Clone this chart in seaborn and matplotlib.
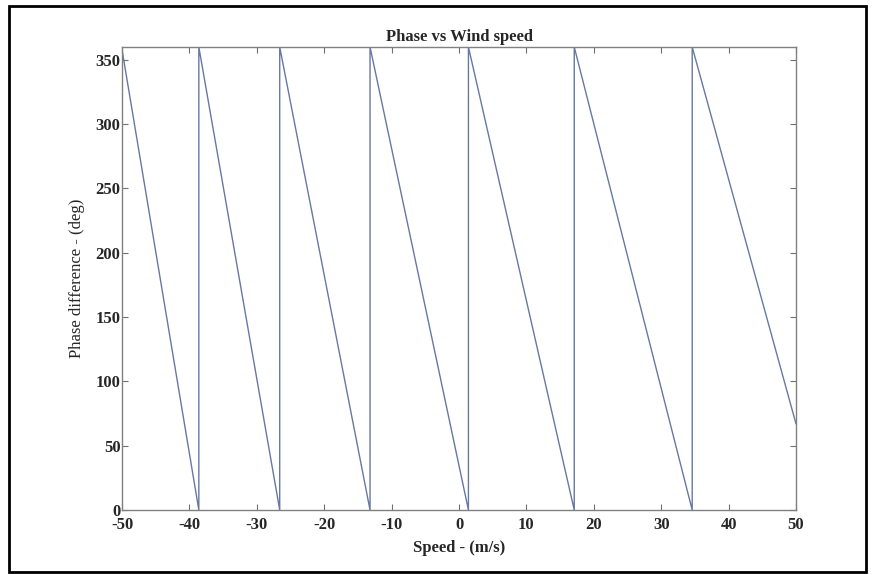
import matplotlib
matplotlib.use("Agg")
import matplotlib.pyplot as plt
import seaborn as sns
import pandas as pd
from matplotlib.patches import Rectangle

# Wrapped phase difference versus wind speed (sawtooth with 360 deg wraps)
speed = [-50.0, -38.6, -38.6, -26.6, -26.6, -13.2, -13.2, 1.4, 1.4, 17.1, 17.1, 34.6, 34.6, 50.0]
phase = [358.0, 0.0, 360.0, 0.0, 360.0, 0.0, 360.0, 0.0, 360.0, 0.0, 360.0, 0.0, 360.0, 67.0]

x_ticks = [-50, -40, -30, -20, -10, 0, 10, 20, 30, 40, 50]
y_ticks = [0, 50, 100, 150, 200, 250, 300, 350]

df = pd.DataFrame({"speed": speed, "phase": phase})

sns.set_style("white")
plt.rcParams["font.family"] = ["Liberation Serif", "DejaVu Serif"]

fig = plt.figure(figsize=(8.72, 5.75), dpi=100)
ax = fig.add_axes([122 / 872, 1 - 510 / 575, (796 - 122) / 872, (510 - 47) / 575])

sns.lineplot(data=df, x="speed", y="phase", sort=False, estimator=None,
             color="#6678a3", linewidth=1.0, ax=ax)

ax.set_xlim(-50, 50)
ax.set_ylim(0, 360)
ax.set_xticks(x_ticks)
ax.set_yticks(y_ticks)
ax.set_xticklabels([str(t) for t in x_ticks], fontsize=12, fontweight="bold")
ax.set_yticklabels([str(t) for t in y_ticks], fontsize=12, fontweight="bold")
ax.tick_params(direction="in", length=4, width=0.8, color="#707070",
               top=True, right=True, bottom=True, left=True)
ax.tick_params(axis="y", pad=1)
ax.tick_params(axis="x", pad=5)

for s in ax.spines.values():
    s.set_visible(True)
    s.set_color("#808080")
    s.set_linewidth(1.0)

ax.set_title("Phase vs Wind speed", fontsize=12, fontweight="bold", pad=4)
ax.set_xlabel("Speed - (m/s)", fontsize=12, fontweight="bold", labelpad=5)
ax.set_ylabel("Phase difference - (deg)", fontsize=12, labelpad=8)

# Frame around the whole figure
fig.patches.append(Rectangle((9 / 872, 1 - 572 / 575), (866 - 9) / 872, (572 - 6) / 575,
                             transform=fig.transFigure, fill=False,
                             edgecolor="black", linewidth=2.0))

fig.savefig("out.png", dpi=100)
